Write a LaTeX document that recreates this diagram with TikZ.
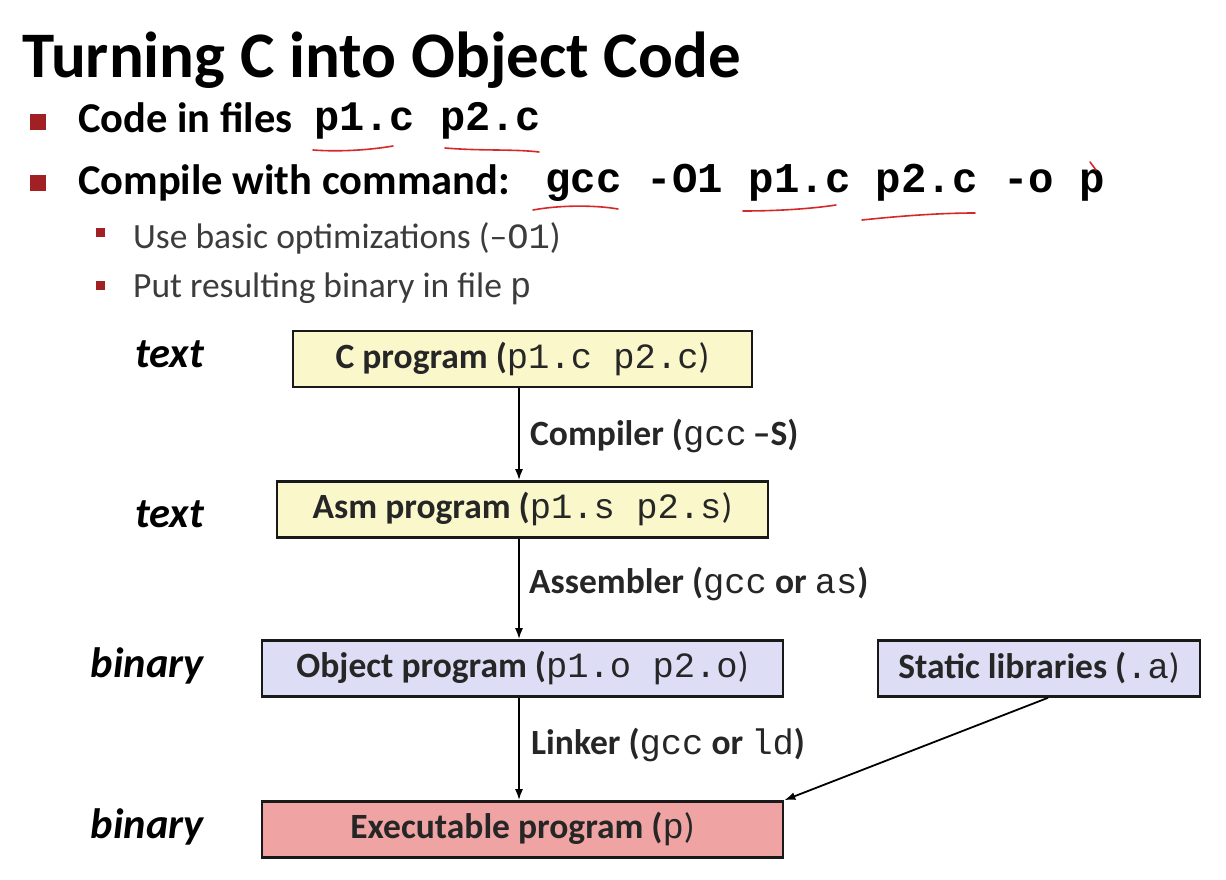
\documentclass[tikz,border=0pt]{standalone}
\usepackage{fontspec}
\setmainfont{Carlito}
\setmonofont{Liberation Mono}
\usetikzlibrary{arrows.meta}
\definecolor{bulletred}{RGB}{160,32,36}
\definecolor{subgray}{RGB}{60,60,60}
\definecolor{boxyellow}{RGB}{250,248,202}
\definecolor{boxlav}{RGB}{221,221,246}
\definecolor{boxpink}{RGB}{239,163,163}
\definecolor{inkred}{RGB}{215,40,40}
\newcommand{\fsz}[1]{\fontsize{#1}{#1}\selectfont}

\begin{document}
\begin{tikzpicture}[x=1pt,y=-1pt,
  stage/.style={draw=black!90, line width=2.6pt, minimum height=56pt, inner sep=0pt,
    font=\fsz{35.5}\bfseries, text=black!85},
  flow/.style={line width=1.8pt, -{Latex[length=11pt,width=8pt]}},
  kind/.style={anchor=base east, font=\fsz{42.5}\bfseries\itshape, inner sep=0pt},
  tool/.style={anchor=west, font=\fsz{35.5}\bfseries, inner sep=0pt, text=black!85},
  bigbullet/.style={fill=bulletred, minimum size=16pt, inner sep=0pt},
  smallbullet/.style={fill=bulletred, minimum size=9pt, inner sep=0pt},
  ink/.style={draw=inkred, line width=1.6pt, line cap=round}]

\useasboundingbox[fill=white] (0,0) rectangle (1226,880);

% heading and bullet list
\node[anchor=base west, inner sep=0pt, font=\fsz{65}\bfseries] (title) at (22,78) {Turning C into Object Code};

\node[bigbullet] (m1) at (38,122) {};
\node[anchor=base west, inner sep=0pt, font=\fsz{42.5}\bfseries] (l1) at (78,132) {Code in files};
\node[anchor=base west, inner sep=0pt, font=\fsz{42}\bfseries\ttfamily] (l1c) at (314,131) {p1.c p2.c};

\node[bigbullet] (m2) at (38,183) {};
\node[anchor=base west, inner sep=0pt, font=\fsz{42.5}\bfseries] (l2) at (78,194) {Compile with command:};
\node[anchor=base west, inner sep=0pt, font=\fsz{42.4}\bfseries\ttfamily] (l2c) at (545,193) {gcc -O1 p1.c p2.c -o p};

\node[smallbullet] (s1) at (100,232) {};
\node[anchor=base west, inner sep=0pt, font=\fsz{35.5}, text=subgray] (t1) at (133,248) {Use basic optimizations (–\texttt{O1})};
\node[smallbullet] (s2) at (100,285) {};
\node[anchor=base west, inner sep=0pt, font=\fsz{35.5}, text=subgray] (t2) at (133,297) {Put resulting binary in file \texttt{p}};

% hand-drawn underlines
\draw[ink] (313,150) .. controls (340,152) and (370,150) .. (393,146);
\draw[ink] (445,148) .. controls (480,151) and (515,149) .. (539,152);
\draw[ink] (533,210) .. controls (560,205) and (595,205) .. (618,209);
\draw[ink] (743,211) .. controls (775,211) and (810,209) .. (836,205);
\draw[ink] (862,220) .. controls (900,216) and (940,213) .. (975,213);
\draw[ink] (1090,162) -- (1096,170);

% compilation stages
\node[stage, fill=boxyellow, minimum width=459pt] (b1) at (522.5,359) {C program (\mdseries\texttt{p1.c p2.c})};
\node[stage, fill=boxyellow, minimum width=491pt] (b2) at (522.5,509.5) {Asm program (\mdseries\texttt{p1.s p2.s})};
\node[stage, fill=boxlav, minimum width=521pt] (b3) at (522.5,668.5) {Object program (\mdseries\texttt{p1.o p2.o})};
\node[stage, fill=boxlav, minimum width=322pt] (lib) at (1039,668.5) {Static libraries (\mdseries\texttt{.a})};
\node[stage, fill=boxpink, minimum width=521pt] (exe) at (522.5,829.5) {Executable program (\mdseries\texttt{p})};

% representation of each stage
\node[kind] (k1) at (204,367) {text};
\node[kind] (k2) at (204,527) {text};
\node[kind] (k3) at (204,677) {binary};
\node[kind] (k4) at (204,838) {binary};

% tools between stages
\coordinate (ax) at (519,0);
\coordinate (lx) at (1048,0);
\draw[flow] (b1.south -| ax) -- (b2.north -| ax);
\draw[flow] (b2.south -| ax) -- (b3.north -| ax);
\draw[flow] (b3.south -| ax) -- (exe.north -| ax);
\draw[flow] (lib.south -| lx) -- (exe.north east);

\node[tool] (c1) at (530,436) {Compiler (\mdseries\texttt{gcc}\bfseries\,–S)};
\node[tool] (c2) at (529,584) {Assembler (\mdseries\texttt{gcc}\bfseries{} or \mdseries\texttt{as}\bfseries)};
\node[tool] (c3) at (531,745) {Linker (\mdseries\texttt{gcc}\bfseries{} or \mdseries\texttt{ld}\bfseries)};
\end{tikzpicture}
\end{document}
